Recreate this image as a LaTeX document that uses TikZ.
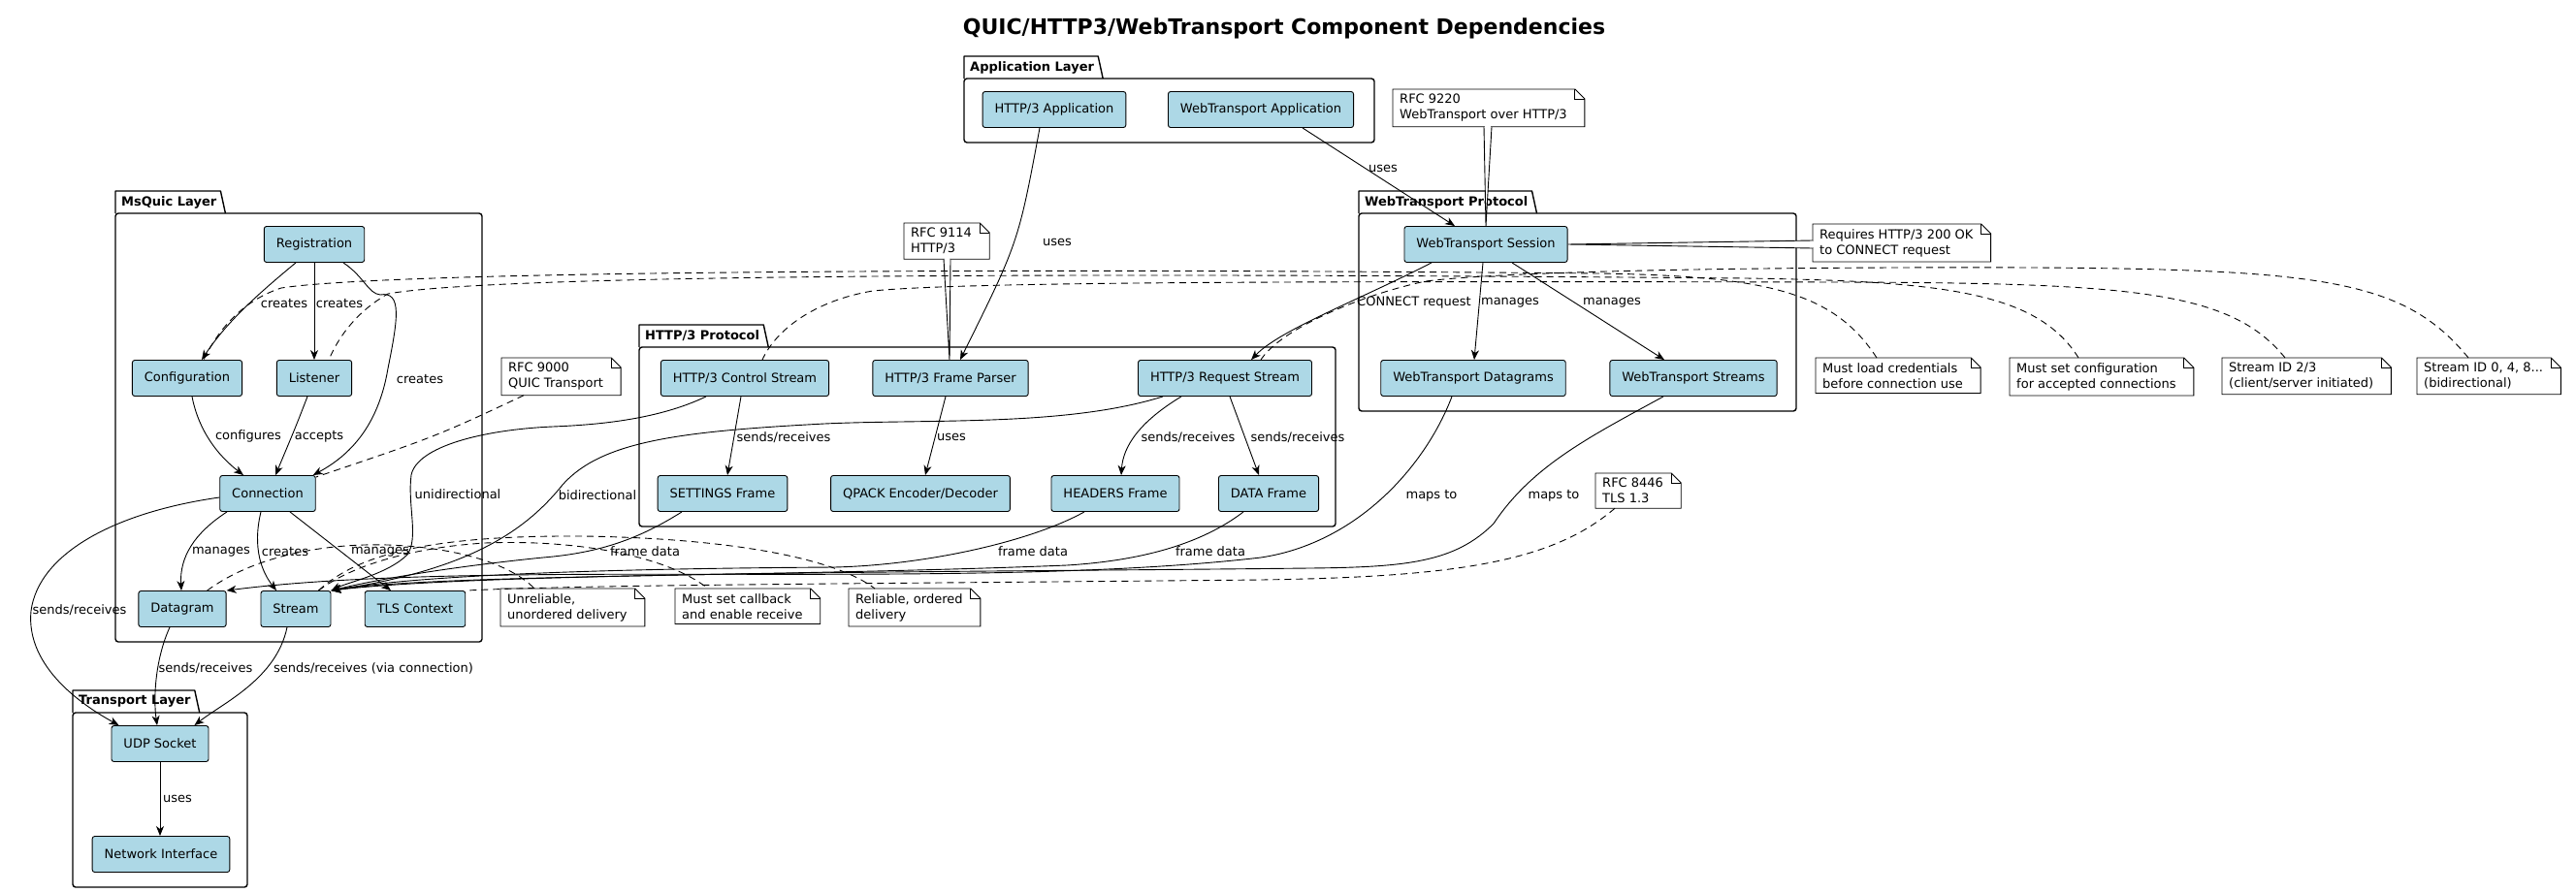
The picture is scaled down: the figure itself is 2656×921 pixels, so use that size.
\documentclass[tikz,border=0pt]{standalone}
\usepackage{fontspec}
\setmainfont{DejaVu Sans}
\usetikzlibrary{arrows.meta,calc}
\pgfdeclarelayer{bg}
\pgfsetlayers{bg,main}
\definecolor{compfill}{HTML}{ADD8E6}
\newcommand{\fs}{\fontsize{13}{16}\selectfont}
\newcommand{\mknote}[3]{%
  \node[notetxt, anchor=north west, text opacity=0] (#1) at (#2) {#3};
  \draw[notebd, fill=white] (#1.north west) -- ($(#1.north east)+(1,0)$) -- ($(#1.north east)+(11,10)$) -- ($(#1.south east)+(11,0)$) -- (#1.south west) -- cycle;
  \draw[notebd] ($(#1.north east)+(1,0)$) -- ($(#1.north east)+(1,10)$) -- ($(#1.north east)+(11,10)$);
  \node[notetxt] at (#1.center) {#3};
}
\newcommand{\mkpkg}[7]{%
  \begin{pgfonlayer}{bg}
  \node[pkglbl, anchor=west] (#1) at ({#2+5},{(#3+#4)/2}) {#7};
  \draw[pkgbd, line join=round] (#2,#4) -- (#2,#3) -- ($(#1.east |- 0,#3)+(3,0)$) -- ($(#1.east |- 0,#4)+(8,0)$);
  \draw[pkgbd, rounded corners=3pt] (#2,#4) -- (#5,#4) -- (#5,#6) -- (#2,#6) -- cycle;
  \end{pgfonlayer}
}
\begin{document}
\begin{tikzpicture}[x=1pt,y=-1pt,
  comp/.style={draw=black, fill=compfill, rounded corners=2.5pt, minimum height=37pt, inner xsep=12.5pt, inner ysep=2pt, font=\fs, line width=0.9pt},
  edge/.style={line width=0.9pt, -{Stealth[length=10pt,width=8pt,inset=3pt]}},
  dlink/.style={line width=0.9pt, dash pattern=on 7pt off 5pt},
  elbl/.style={font=\fs, inner sep=1pt},
  pkgbd/.style={line width=1.4pt},
  pkglbl/.style={font=\bfseries\fs, inner sep=1pt},
  notetxt/.style={font=\fs, align=left, inner xsep=7pt, inner ysep=5pt},
  notebd/.style={line width=0.9pt, draw=black},
]
\useasboundingbox (0,0) rectangle (2656,921);

% title
\node[font=\bfseries\fontsize{22}{24}\selectfont] (title) at (1324,29) {QUIC/HTTP3/WebTransport Component Dependencies};

% packages
\mkpkg{papp}{994}{58}{81}{1417}{147}{Application Layer}
\mkpkg{pmsq}{119}{197}{220}{497}{662}{MsQuic Layer}
\mkpkg{ph3}{659}{335}{358}{1377}{543}{HTTP/3 Protocol}
\mkpkg{pwt}{1401}{197}{220}{1852}{424}{WebTransport Protocol}
\mkpkg{ptr}{75}{712}{735}{255}{915}{Transport Layer}

% components
\node[comp] (h3app) at (1087,113) {HTTP/3 Application};
\node[comp] (wtapp) at (1300,113) {WebTransport Application};
\node[comp] (reg) at (324,252) {Registration};
\node[comp] (conf) at (193,390) {Configuration};
\node[comp] (list) at (324,390) {Listener};
\node[comp] (conn) at (276,509) {Connection};
\node[comp] (dgram) at (188,628) {Datagram};
\node[comp] (stream) at (305,628) {Stream};
\node[comp] (tls) at (428,628) {TLS Context};
\node[comp] (h3ctrl) at (768,390) {HTTP/3 Control Stream};
\node[comp] (h3parser) at (980,390) {HTTP/3 Frame Parser};
\node[comp] (h3req) at (1263,390) {HTTP/3 Request Stream};
\node[comp] (settings) at (745,509) {SETTINGS Frame};
\node[comp] (qpack) at (949,509) {QPACK Encoder/Decoder};
\node[comp] (headers) at (1150,509) {HEADERS Frame};
\node[comp] (dataf) at (1308,509) {DATA Frame};
\node[comp] (wtsess) at (1532,252) {WebTransport Session};
\node[comp] (wtdg) at (1519,390) {WebTransport Datagrams};
\node[comp] (wtst) at (1746,390) {WebTransport Streams};
\node[comp] (udp) at (165,767) {UDP Socket};
\node[comp] (netif) at (166,881) {Network Interface};

% solid edges
\draw[edge] ($(reg.south)+(-19,0)$) .. controls (270,300) and (235,330) .. ($(conf.north)+(15,0)$);
\draw[edge] (reg.south) -- (list.north);
\draw[edge] ($(reg.south)+(30,0)$) .. controls (375,285) and (380,303) .. (392,304) .. controls (415,300) and (410,330) .. (400,380) .. controls (390,440) and (360,470) .. ($(conn.north east)+(-3,0)$);
\draw[edge] ($(conf.south)+(5,0)$) .. controls (205,445) and (225,470) .. ($(conn.north)+(-25,0)$);
\draw[edge] ($(list.south)+(-7,0)$) .. controls (305,440) .. ($(conn.north)+(8,0)$);
\draw[edge] ($(conn.south)+(-42,0)$) .. controls (200,550) and (185,575) .. ($(dgram.north)+(-1,0)$);
\draw[edge] ($(conn.south)+(-7,0)$) .. controls (260,565) and (270,590) .. ($(stream.north)+(-20,0)$);
\draw[edge] ($(conn.south)+(23,0)$) -- ($(tls.north)+(-25,0)$);
\draw[edge] ($(conn.west)+(0,4)$) .. controls (120,528) and (40,570) .. (32,630) .. controls (26,690) and (90,730) .. ($(udp.north west)+(8,0)$);
\draw[edge] ($(dgram.south)+(-13,0)$) .. controls (160,680) and (158,720) .. ($(udp.north)+(-3,0)$);
\draw[edge] ($(stream.south)+(-9,0)$) .. controls (285,700) and (230,725) .. ($(udp.north east)+(-15,0)$);
\draw[edge] (udp.south) -- (udp.south |- netif.north);
\draw[edge] ($(h3app.south)+(-15,0)$) .. controls (1050,250) .. ($(h3parser.north)+(10,0)$);
\draw[edge] ($(wtapp.south)+(43,0)$) -- ($(wtsess.north)+(-32,0)$);
\draw[edge] ($(wtsess.south)+(-56,0)$) .. controls (1400,310) and (1320,340) .. ($(h3req.north)+(27,0)$);
\draw[edge] ($(wtsess.south)+(-3,0)$) -- ($(wtdg.north)+(1,0)$);
\draw[edge] ($(wtsess.south)+(27,0)$) -- ($(wtst.north)+(-30,0)$);
\draw[edge] ($(h3ctrl.south)+(-4,0)$) -- ($(settings.north)+(5,0)$);
\draw[edge] ($(h3parser.south)+(-5,0)$) -- ($(qpack.north)+(5,0)$);
\draw[edge] ($(h3req.south)+(-45,0)$) .. controls (1175,435) and (1158,460) .. ($(headers.north)+(6,0)$);
\draw[edge] ($(h3req.south)+(5,0)$) -- ($(dataf.north)+(-10,0)$);
\draw[edge] ($(h3ctrl.south)+(-40,0)$) .. controls (680,432) and (620,438) .. (570,440) .. controls (500,443) and (430,460) .. (424,490) .. controls (420,520) and (432,555) .. (420,572) .. controls (400,592) and (360,600) .. (stream.north east);
\draw[edge] ($(h3req.south)+(-64,0)$) .. controls (1100,440) and (960,432) .. (850,437) .. controls (700,445) and (620,455) .. (580,500) .. controls (540,550) and (480,588) .. (stream.north east);
\draw[edge] ($(settings.south)+(-42,0)$) .. controls (660,555) and (620,570) .. (560,575) .. controls (480,583) and (400,595) .. (stream.north east);
\draw[edge] ($(headers.south)+(-32,0)$) .. controls (1060,560) and (950,583) .. (860,585) .. controls (700,586) and (450,590) .. (stream.north east);
\draw[edge] ($(dataf.south)+(-26,0)$) .. controls (1240,560) and (1180,578) .. (1100,583) .. controls (800,595) and (450,592) .. (stream.north east);
\draw[edge] ($(wtdg.south)+(-22,0)$) .. controls (1470,480) and (1400,560) .. (1300,575) .. controls (1000,610) and (500,575) .. (dgram.north east);
\draw[edge] ($(wtst.south)+(-31,0)$) .. controls (1640,450) and (1580,480) .. (1540,540) .. controls (1500,580) and (1450,585) .. (1350,586) .. controls (1000,590) and (500,590) .. (stream.north east);

% edge labels
\node[elbl] at (293,313) {creates};
\node[elbl] at (350,313) {creates};
\node[elbl] at (433,391) {creates};
\node[elbl] at (256,450) {configures};
\node[elbl] at (329,450) {accepts};
\node[elbl] at (228,569) {manages};
\node[elbl] at (294,569) {creates};
\node[elbl] at (392,569) {manages};
\node[elbl] at (82,629) {sends/receives};
\node[elbl] at (212,689) {sends/receives};
\node[elbl] at (385,689) {sends/receives (via connection)};
\node[elbl] at (183,824) {uses};
\node[elbl] at (1090,250) {uses};
\node[elbl] at (1426,174) {uses};
\node[elbl] at (1458,312) {CONNECT request};
\node[elbl] at (1557,312) {manages};
\node[elbl] at (1662,312) {manages};
\node[elbl] at (808,451) {sends/receives};
\node[elbl] at (981,451) {uses};
\node[elbl] at (1225,451) {sends/receives};
\node[elbl] at (1338,451) {sends/receives};
\node[elbl] at (472,510) {unidirectional};
\node[elbl] at (616,511) {bidirectional};
\node[elbl] at (665,569) {frame data};
\node[elbl] at (1065,569) {frame data};
\node[elbl] at (1248,569) {frame data};
\node[elbl] at (1476,511) {maps to};
\node[elbl] at (1602,511) {maps to};

% notes
\mknote{rfc9220}{1436,92}{RFC 9220\\WebTransport over HTTP/3}
\mknote{rfc9114}{932,230}{RFC 9114\\HTTP/3}
\mknote{rfc9000}{517,369}{RFC 9000\\QUIC Transport}
\mknote{requires}{1869,231}{Requires HTTP/3 200 OK\\to CONNECT request}
\mknote{rfc8446}{1645,488}{RFC 8446\\TLS 1.3}
\mknote{mustload}{1872,369}{Must load credentials\\before connection use}
\mknote{mustset}{2072,369}{Must set configuration\\for accepted connections}
\mknote{sidtt}{2291,369}{Stream ID 2/3\\(client/server initiated)}
\mknote{sidbi}{2492,369}{Stream ID 0, 4, 8...\\(bidirectional)}
\mknote{unrel}{516,607}{Unreliable,\\unordered delivery}
\mknote{callback}{696,607}{Must set callback\\and enable receive}
\mknote{reliable}{875,607}{Reliable, ordered\\delivery}

% note wedges
\filldraw[fill=white, line width=0.9pt] ($(rfc9114.south west)+(41,0)$) -- ($(h3parser.north)+(-1,0)$) -- ($(rfc9114.south west)+(48,0)$);
\draw[white, line width=1.6pt] ($(rfc9114.south west)+(42,0)$) -- ($(rfc9114.south west)+(47,0)$);
\filldraw[fill=white, line width=0.9pt] ($(rfc9220.south west)+(94,0)$) -- (wtsess.north) -- ($(rfc9220.south west)+(102,0)$);
\draw[white, line width=1.6pt] ($(rfc9220.south west)+(95,0)$) -- ($(rfc9220.south west)+(101,0)$);
\filldraw[fill=white, line width=0.9pt] ($(requires.north west)+(0,17)$) -- (wtsess.east) -- ($(requires.north west)+(0,25)$);
\draw[white, line width=1.6pt] ($(requires.north west)+(0,18)$) -- ($(requires.north west)+(0,24)$);

% dashed note links
\draw[dlink] ($(rfc9000.south west)+(23,0)$) .. controls (450,450) .. ($(conn.north east)+(0,2)$);
\draw[dlink] ($(mustload.north west)+(63,0)$) .. controls (1890,300) and (1820,285) .. (1650,282) .. controls (1000,276) and (400,280) .. (290,297) .. controls (250,310) and (225,340) .. ($(conf.north)+(17,0)$);
\draw[dlink] ($(mustset.north west)+(71,0)$) .. controls (2100,300) and (2000,290) .. (1800,287) .. controls (1000,280) and (500,285) .. (400,303) .. controls (370,320) and (350,345) .. ($(list.north east)+(-24,0)$);
\draw[dlink] ($(sidtt.north west)+(65,0)$) .. controls (2300,300) and (2200,292) .. (1900,291) .. controls (1400,290) and (1000,290) .. (900,300) .. controls (840,310) and (800,340) .. ($(h3ctrl.north)+(18,0)$);
\draw[dlink] ($(sidbi.north west)+(53,0)$) .. controls (2480,290) and (2400,278) .. (2100,276) .. controls (1800,275) and (1550,280) .. (1470,290) .. controls (1400,305) and (1320,340) .. ($(h3req.north)+(37,0)$);
\draw[dlink] ($(dgram.north east)+(-20,0)$) .. controls (260,575) and (330,560) .. (400,562) .. controls (480,565) and (530,585) .. ($(unrel.north west)+(35,0)$);
\draw[dlink] ($(stream.north east)+(-13,0)$) .. controls (360,585) and (420,565) .. (500,560) .. controls (600,556) and (690,575) .. ($(callback.north west)+(34,0)$);
\draw[dlink] ($(stream.north east)+(-13,0)$) .. controls (370,570) and (450,552) .. (600,553) .. controls (750,555) and (860,575) .. ($(reliable.north west)+(27,0)$);
\draw[dlink] ($(rfc8446.south west)+(20,0)$) .. controls (1600,580) and (1500,595) .. (1300,598) .. controls (900,602) and (600,603) .. (tls.north east);
\end{tikzpicture}
\end{document}
